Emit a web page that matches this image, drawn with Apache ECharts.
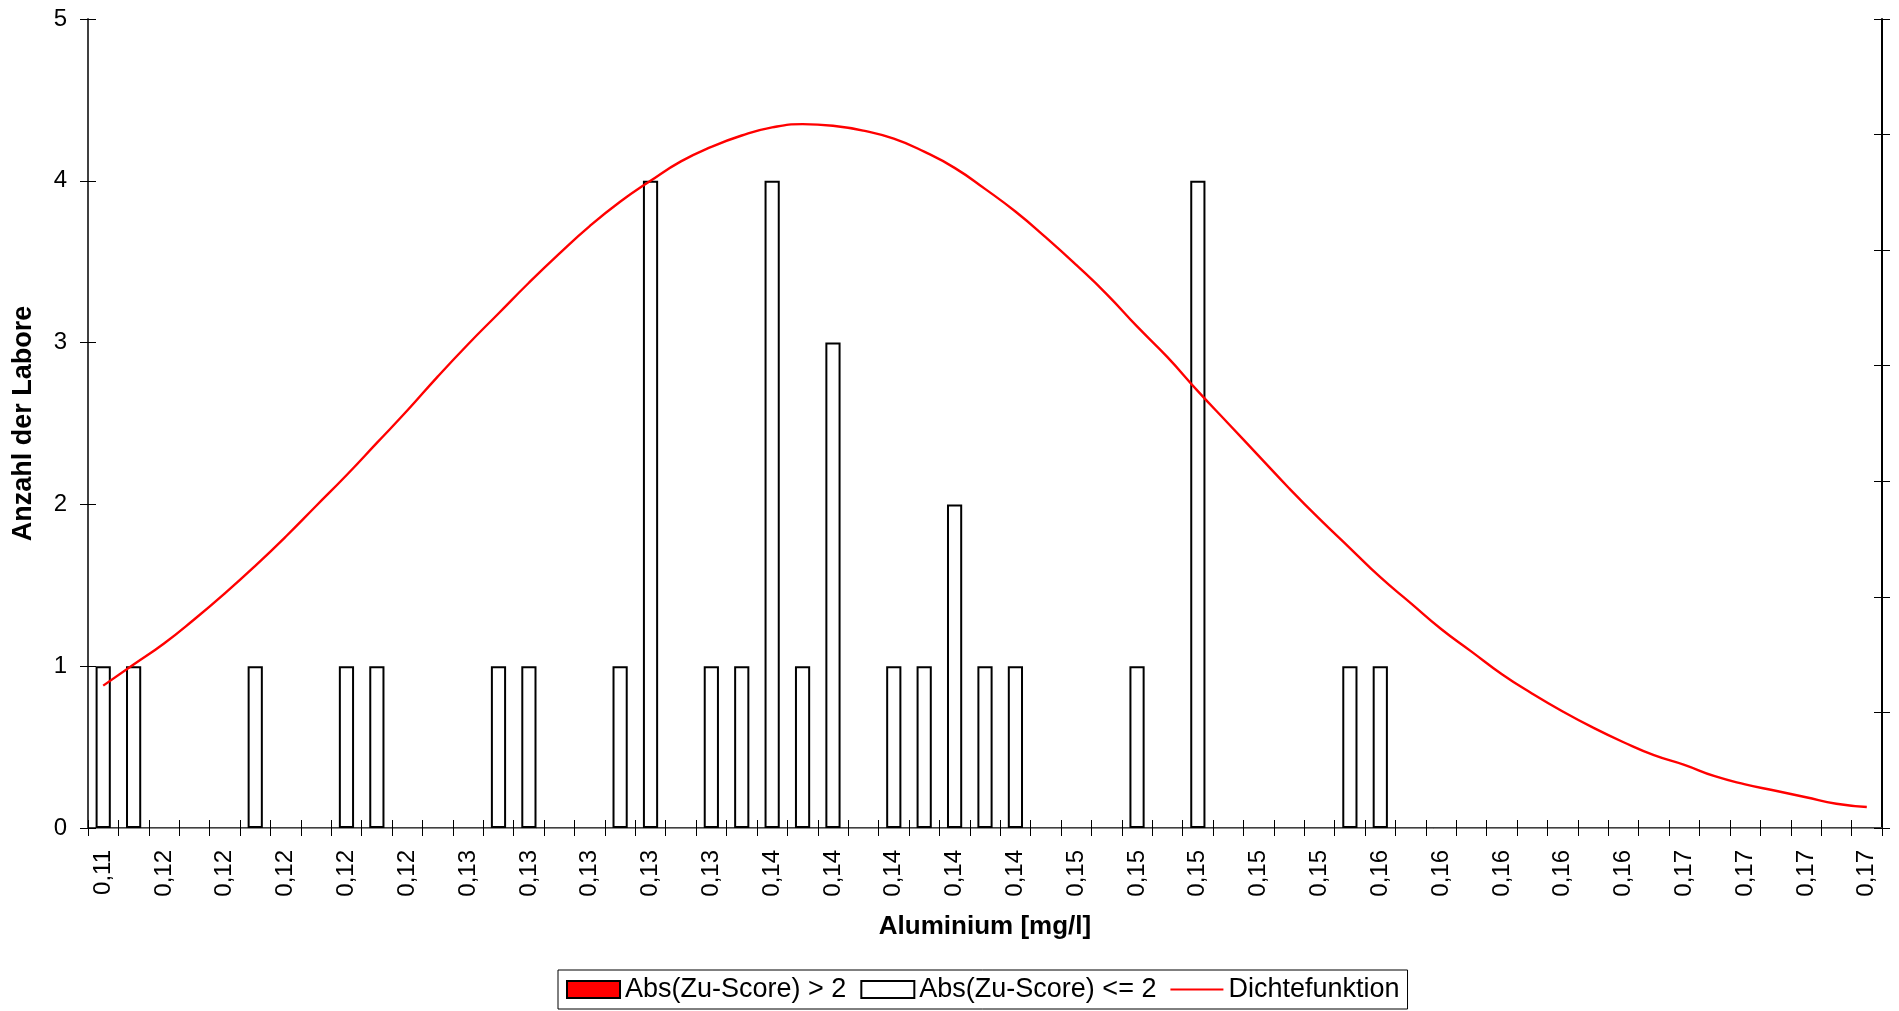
<!DOCTYPE html>
<html>
<head>
<meta charset="utf-8">
<script src="https://cdn.jsdelivr.net/npm/echarts@6/dist/echarts.min.js"></script>
<style>
html,body{margin:0;padding:0;background:#fff;}
#chart{width:1899px;height:1011px;}
</style>
</head>
<body>
<div id="chart"></div>
<script>
// Tick labels shown on every second class (30 labels over 59 classes)
const tickLabels = ['0,11','0,12','0,12','0,12','0,12','0,12','0,13','0,13','0,13','0,13','0,13',
  '0,14','0,14','0,14','0,14','0,14','0,15','0,15','0,15','0,15','0,15',
  '0,16','0,16','0,16','0,16','0,16','0,17','0,17','0,17','0,17'];

// Number of labs per class, |z| <= 2
const countsWithin = [1,1,0,0,0,1,0,0,1,1,0,0,0,1,1,0,0,1,4,0,1,1,4,1,3,0,1,1,2,1,1,0,0,0,1,0,4,0,0,0,0,1,1,0,0,0,0,0,0,0,0,0,0,0,0,0,0,0,0];
// Number of labs per class, |z| > 2 (none)
const countsOutside = [0,0,0,0,0,0,0,0,0,0,0,0,0,0,0,0,0,0,0,0,0,0,0,0,0,0,0,0,0,0,0,0,0,0,0,0,0,0,0,0,0,0,0,0,0,0,0,0,0,0,0,0,0,0,0,0,0,0,0];
// Density curve read at each class centre (in units of the left axis)
const density = [0.88,1.01,1.14,1.29,1.45,1.62,1.80,1.99,2.18,2.38,2.58,2.79,2.99,3.18,3.37,3.55,3.72,3.87,4.00,4.12,4.21,4.28,4.33,4.35,4.34,4.31,4.26,4.18,4.08,3.95,3.81,3.65,3.48,3.30,3.10,2.91,2.70,2.50,2.30,2.10,1.91,1.73,1.55,1.39,1.23,1.09,0.95,0.83,0.72,0.62,0.53,0.45,0.39,0.32,0.27,0.23,0.19,0.15,0.13];

const categories = countsWithin.map((_, i) => (i % 2 === 0 ? tickLabels[i / 2] : ''));

const FONT = 'Liberation Sans, Arial, sans-serif';
const chart = echarts.init(document.getElementById('chart'));

const tickX = (inside) => ({
  type: 'category', data: categories, position: 'bottom', boundaryGap: true,
  axisLine: { show: !inside, lineStyle: { color: '#404040', width: 2 } },
  axisTick: { show: true, inside: inside, length: 8, interval: 0, lineStyle: { color: '#000', width: 1 } },
  axisLabel: inside ? { show: false } : {
    show: true, interval: 0, rotate: 90, margin: 22, color: '#000', fontSize: 24, fontFamily: FONT
  },
  splitLine: { show: false }
});

const option = {
  animation: false,
  backgroundColor: '#fff',
  grid: { left: 88, right: 17, top: 19, bottom: 183, containLabel: false },
  legend: {
    left: 558, top: 970,
    data: [
      { name: 'Abs(Zu-Score) > 2', icon: 'rect' },
      { name: 'Abs(Zu-Score) <= 2', icon: 'rect' },
      { name: 'Dichtefunktion', icon: 'path://M0,0 M0,7.5 L53,7.5 L53,9.5 L0,9.5 Z M53,17' }
    ],
    itemWidth: 53, itemHeight: 17, itemGap: 14,
    borderColor: '#000', borderWidth: 1, padding: [6, 8],
    textStyle: { fontSize: 27, fontFamily: FONT, color: '#000' }
  },
  xAxis: [
    Object.assign(tickX(false), {
      name: 'Aluminium [mg/l]', nameLocation: 'middle', nameGap: 86,
      nameTextStyle: { fontSize: 26, fontWeight: 'bold', fontFamily: FONT, color: '#000' }
    }),
    tickX(true),
    {
      type: 'category', data: categories, position: 'top',
      axisLine: { show: true, lineStyle: { color: '#8a8a8a', width: 1 } },
      axisTick: { show: false }, axisLabel: { show: false }, splitLine: { show: false }
    }
  ],
  yAxis: [
    {
      type: 'value', position: 'left', min: 0, max: 5, interval: 1,
      name: 'Anzahl der Labore', nameLocation: 'middle', nameGap: 51,
      nameTextStyle: { fontSize: 27, fontWeight: 'bold', fontFamily: FONT, color: '#000' },
      axisLine: { show: true, lineStyle: { color: '#404040', width: 2 } },
      axisTick: { show: true, inside: false, length: 8, lineStyle: { color: '#000', width: 1 } },
      axisLabel: { show: true, margin: 21, color: '#000', fontSize: 24, fontFamily: FONT },
      splitLine: { show: false }
    },
    {
      type: 'value', position: 'left', min: 0, max: 5, interval: 1,
      axisLine: { show: false },
      axisTick: { show: true, inside: true, length: 8, lineStyle: { color: '#000', width: 1 } },
      axisLabel: { show: false }, splitLine: { show: false }
    },
    {
      type: 'value', position: 'right', min: 0, max: 7, interval: 1,
      axisLine: { show: true, lineStyle: { color: '#000', width: 2 } },
      axisTick: { show: true, inside: false, length: 8, lineStyle: { color: '#000', width: 1 } },
      axisLabel: { show: false }, splitLine: { show: false }
    },
    {
      type: 'value', position: 'right', min: 0, max: 7, interval: 1,
      axisLine: { show: false },
      axisTick: { show: true, inside: true, length: 8, lineStyle: { color: '#000', width: 1 } },
      axisLabel: { show: false }, splitLine: { show: false }
    }
  ],
  series: [
    {
      name: 'Abs(Zu-Score) > 2', type: 'bar', xAxisIndex: 0, yAxisIndex: 0,
      barWidth: '50%', barGap: '-100%',
      itemStyle: { color: '#ff0000', borderColor: '#000', borderWidth: 2 },
      data: countsOutside.map(v => (v > 0 ? v : null))
    },
    {
      name: 'Abs(Zu-Score) <= 2', type: 'bar', xAxisIndex: 0, yAxisIndex: 0,
      barWidth: '50%', barGap: '-100%',
      itemStyle: { color: '#ffffff', borderColor: '#000', borderWidth: 2 },
      data: countsWithin.map(v => (v > 0 ? v : null))
    },
    {
      name: 'Dichtefunktion', type: 'line', xAxisIndex: 0, yAxisIndex: 0,
      symbol: 'none', smooth: true,
      lineStyle: { color: '#ff0000', width: 2.4 },
      itemStyle: { color: '#ff0000' },
      data: density, z: 5
    }
  ]
};
chart.setOption(option);
</script>
</body>
</html>
